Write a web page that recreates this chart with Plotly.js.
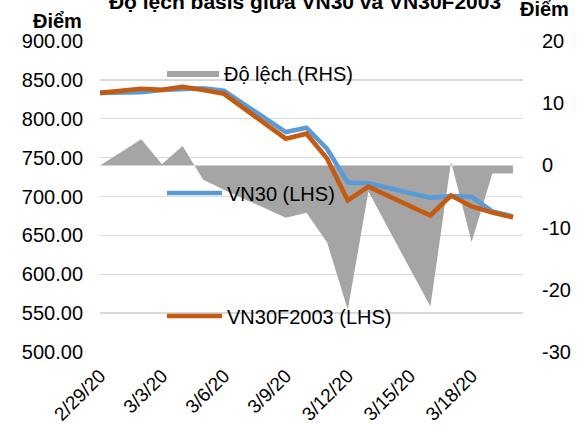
<!DOCTYPE html>
<html>
<head>
<meta charset="utf-8">
<script src="https://cdn.plot.ly/plotly-3.0.1.min.js"></script>
<style>html,body{margin:0;padding:0;background:#fff;}#chart{width:581px;height:427px;}</style>
</head>
<body>
<div id="chart"></div>
<script>
// Data
const dates = ['2020-02-29','2020-03-02','2020-03-03','2020-03-04','2020-03-05','2020-03-06',
               '2020-03-09','2020-03-10','2020-03-11','2020-03-12','2020-03-13',
               '2020-03-16','2020-03-17','2020-03-18','2020-03-19','2020-03-20'];
const vn30 = [833.3, 834.3, 837.0, 837.9, 839.3, 836.0, 782.8, 788.4, 761.1, 718.1, 717.0, 698.3, 700.7, 699.5, 680.8, 674.4];
const vn30f2003 = [833.3, 838.5, 837.2, 841.0, 837.0, 832.1, 774.4, 780.8, 748.7, 694.9, 712.8, 675.6, 701.3, 687.2, 679.5, 673.1];
const doLech = [0, 4.2, 0.2, 3.1, -2.3, -3.9, -8.4, -7.6, -12.4, -23.2, -4.2, -22.7, 0.6, -12.3, -1.3, -1.3];
const tickDates = ['2020-02-29','2020-03-03','2020-03-06','2020-03-09','2020-03-12','2020-03-15','2020-03-18'];
const tickText = ['2/29/20','3/3/20','3/6/20','3/9/20','3/12/20','3/15/20','3/18/20'];
const leftTicks = [500,550,600,650,700,750,800,850,900];
const rightTicks = [-30,-20,-10,0,10,20];
const rightTickText = ['-30','-20','-10','0','10','20'];

const FONT = 'Arial, "Liberation Sans", sans-serif';

// Area (RHS) on the base y axis so that the LHS lines (overlay y2) are drawn above it
const traces = [
  {x: dates, y: doLech, yaxis: 'y', type: 'scatter', mode: 'lines', name: 'Độ lệch (RHS)',
   fill: 'tozeroy', fillcolor: '#a5a5a5', line: {width: 0, color: '#a5a5a5'}, legend: 'legend'},
  {x: dates, y: vn30, yaxis: 'y2', type: 'scatter', mode: 'lines', name: 'VN30 (LHS)',
   line: {color: '#5b9bd5', width: 4.6}, legend: 'legend2'},
  {x: dates, y: vn30f2003, yaxis: 'y2', type: 'scatter', mode: 'lines', name: 'VN30F2003 (LHS)',
   line: {color: '#c55a11', width: 4.6}, legend: 'legend3'}
];

const px = v => (v - 100) / 423;
const py = v => (352 - v) / 311;

const legendBase = {font: {family: FONT, size: 20, color: '#000'}, bgcolor: 'rgba(0,0,0,0)',
  xref: 'paper', yref: 'paper', xanchor: 'left', yanchor: 'middle'};

const layout = {
  width: 581, height: 427,
  margin: {l: 100, r: 58, t: 41, b: 75, autoexpand: false},
  paper_bgcolor: '#fff', plot_bgcolor: '#fff',
  font: {family: FONT, size: 20, color: '#000'},
  title: {text: 'Độ lệch basis giữa VN30 và VN30F2003', font: {family: FONT, size: 21, color: '#000', weight: 'bold'},
          xref: 'container', yref: 'container', x: 0.525, xanchor: 'center', y: 0.996, yanchor: 'middle'},
  showlegend: true,
  legend: Object.assign({}, legendBase, {x: px(162), y: py(73), itemwidth: 52}),
  legend2: Object.assign({}, legendBase, {x: px(162), y: py(193), itemwidth: 55}),
  legend3: Object.assign({}, legendBase, {x: px(162), y: py(316), itemwidth: 55}),
  xaxis: {type: 'date', range: ['2020-02-29', '2020-03-20 11:40'], tickvals: tickDates, ticktext: tickText,
          tickangle: -45, showgrid: false, zeroline: false, showline: false, ticks: '',
          tickfont: {family: FONT, size: 19, color: '#000'}, ticklabelstandoff: 8},
  yaxis: {range: [-30, 20], tickvals: rightTicks, ticktext: rightTickText, side: 'right', showgrid: false, zeroline: false,
          showline: false, ticks: '', tickfont: {family: FONT, size: 20, color: '#000'}, ticklabelstandoff: 18},
  yaxis2: {range: [500, 900], tickvals: leftTicks, tickformat: '.2f', overlaying: 'y', side: 'left',
           showgrid: true, gridcolor: '#d9d9d9', gridwidth: 1.3,
           zeroline: false, showline: false, ticks: '', tickfont: {family: FONT, size: 20, color: '#000'}, ticklabelstandoff: 16},
  annotations: [
    {text: '<b>Điểm</b>', xref: 'paper', yref: 'paper', x: px(57), y: py(21),
     xanchor: 'center', yanchor: 'middle', showarrow: false, font: {family: FONT, size: 20, color: '#000'}},
    {text: '<b>Điểm</b>', xref: 'paper', yref: 'paper', x: px(544), y: py(9),
     xanchor: 'center', yanchor: 'middle', showarrow: false, font: {family: FONT, size: 20, color: '#000'}}
  ]
};

Plotly.newPlot('chart', traces, layout, {displayModeBar: false, staticPlot: true});
</script>
</body>
</html>
